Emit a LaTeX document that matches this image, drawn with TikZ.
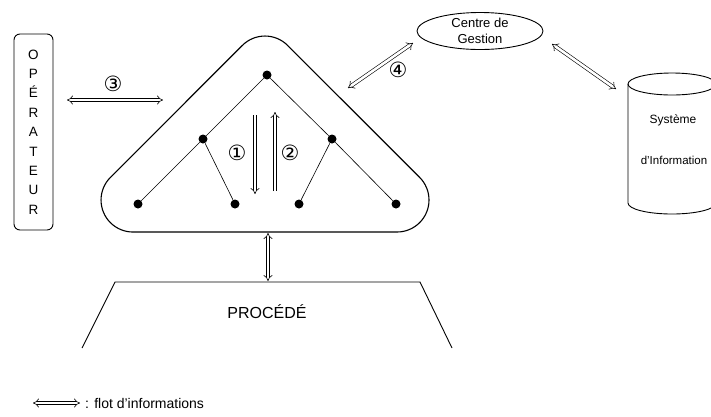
\documentclass[tikz,border=0pt]{standalone}
\usepackage{fontspec}
\setmainfont{Liberation Sans}
\newfontfamily\dejavu{DejaVu Sans}
\usetikzlibrary{arrows.meta,shapes.geometric}
\begin{document}
\begin{tikzpicture}[x=1pt,y=-1pt,
  outline/.style={draw=black, line width=1.1pt},
  link/.style={draw=black, line width=0.6pt},
  dot/.style={circle, fill=black, inner sep=0pt, minimum size=9pt},
  flow/.style={draw=black, double=white, double distance=2.6pt, line width=0.6pt, {Implies[scale=1.35]}-{Implies[scale=1.35]}},
  flowone/.style={draw=black, double=white, double distance=2.6pt, line width=0.6pt, -{Implies[scale=1.35]}},
  num/.style={font=\dejavu\fontsize{21}{21}\selectfont, inner sep=0pt},
  lbl/.style={inner sep=0pt, align=center}]
\useasboundingbox (0,0) rectangle (711,416);

% operator box
\node[draw, line width=0.9pt, rounded corners=6pt, minimum width=39pt, minimum height=196pt,
      inner sep=0pt, align=center, font=\fontsize{13.5}{19.4}\selectfont] (oper) at (33.5,132)
      {O\\P\\É\\R\\A\\T\\E\\U\\R};

% rounded triangle (control system)
\draw[outline] (133,232) -- (397,232) arc[start angle=270,end angle=405,radius=32pt]
  -- (287.6,45.4) arc[start angle=45,end angle=135,radius=32pt]
  -- (110.4,177.4) arc[start angle=135,end angle=270,radius=32pt] -- cycle;
\coordinate (tribot) at (268,233);

% hierarchy dots
\node[dot] (n1) at (267,75) {};
\node[dot] (n2) at (203,139) {};
\node[dot] (n3) at (332,139) {};
\node[dot] (b1) at (138,204) {};
\node[dot] (b2) at (235,204) {};
\node[dot] (b3) at (299,204) {};
\node[dot] (b4) at (396,204) {};
\draw[link] (n1) -- (n2);
\draw[link] (n1) -- (n3);
\draw[link] (n2) -- (b1);
\draw[link] (n2) -- (b2);
\draw[link] (n3) -- (b3);
\draw[link] (n3) -- (b4);

% internal flows 1 and 2
\coordinate (d1s) at (255,115); \coordinate (d1e) at (255,194);
\coordinate (u2s) at (275,191); \coordinate (u2e) at (275,112);
\draw[flowone] (d1s) -- (d1e);
\draw[flowone] (u2s) -- (u2e);
\node[num] (c1) at (237,153) {①};
\node[num] (c2) at (290,153) {②};

% flow 3 operator <-> triangle
\coordinate (f3a) at (67,100); \coordinate (f3b) at (163,100);
\draw[flow] (f3a) -- (f3b);
\node[num] (c3) at (113,84) {③};

% centre de gestion
\node[draw, ellipse, line width=0.9pt, minimum width=126pt, minimum height=37pt, inner sep=0pt,
      align=center, font=\fontsize{13}{16}\selectfont] (gestion) at (480,31) {Centre de\\Gestion};

% flow 4
\coordinate (f4a) at (348,88); \coordinate (f4b) at (413,43);
\draw[flow] (f4a) -- (f4b);
\node[num] (c4) at (398,70) {④};

% information system cylinder
\draw[line width=0.9pt] (672,84) ellipse [x radius=44pt, y radius=11pt];
\draw[line width=0.9pt] (628,84) -- (628,203) arc[start angle=180,end angle=360,x radius=44pt,y radius=11pt] -- (716,84);
\node[lbl, font=\fontsize{12}{12}\selectfont] (sys) at (673,120) {Système};
\node[lbl, font=\fontsize{11.5}{12}\selectfont] (dinf) at (674,160) {d'Information};

% flow gestion <-> systeme
\coordinate (f5a) at (552,44); \coordinate (f5b) at (616,89);
\draw[flow] (f5a) -- (f5b);

% process
\coordinate (p1) at (115,282); \coordinate (p2) at (420,282);
\coordinate (p3) at (82,348); \coordinate (p4) at (452,348);
\draw[line width=0.9pt] (p3) -- (p1) -- (p2) -- (p4);
\node[lbl, font=\fontsize{16}{16}\selectfont] (proc) at (267,312) {PROCÉDÉ};
\coordinate (proctop) at (268,281);
\draw[flow] (tribot) -- (proctop);

% legend
\coordinate (la) at (33,403); \coordinate (lb) at (80,403);
\draw[flow] (la) -- (lb);
\node[anchor=west, inner sep=0pt, font=\fontsize{14}{14}\selectfont] (leg) at (85,403) {: flot d'informations};
\end{tikzpicture}
\end{document}
